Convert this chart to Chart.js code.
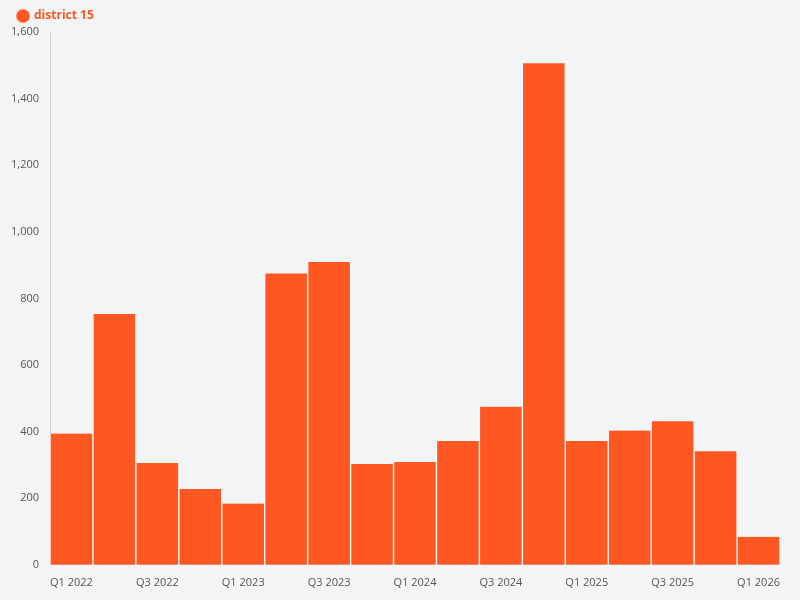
<!DOCTYPE html>
<html><head><meta charset="utf-8">
<script src="https://cdn.jsdelivr.net/npm/chart.js@4"></script>
<style>html,body{margin:0;padding:0;background:#f3f4f6;}#w{width:800px;height:600px;}</style>
</head><body><div id="w"><canvas id="c"></canvas></div>
<script>
const categories = ["Q1 2022","Q2 2022","Q3 2022","Q4 2022","Q1 2023","Q2 2023","Q3 2023","Q4 2023","Q1 2024","Q2 2024","Q3 2024","Q4 2024","Q1 2025","Q2 2025","Q3 2025","Q4 2025","Q1 2026"];
const values = [394,753,306,228,184,875,909,303,309,372,475,1506,372,403,431,341,84];
const seriesName = "district 15";
Chart.defaults.font.family = "'Open Sans', sans-serif";
new Chart(document.getElementById('c'), {
  type: 'bar',
  data: { labels: categories, datasets: [{ label: seriesName, data: values, backgroundColor: '#ff5722', borderColor: '#ffffff', borderWidth: {left:1,right:1,top:0,bottom:0}, barPercentage: 1, categoryPercentage: 1 }] },
  options: {
    responsive: true, maintainAspectRatio: false, animation: false,
    layout: { padding: { left: 8, right: 20, top: 0, bottom: 8 } },
    plugins: {
      legend: { position: 'top', align: 'start', labels: { usePointStyle: true, pointStyle: 'circle', boxWidth: 10, boxHeight: 10, color: '#ff5722', font: { size: 12, weight: 'bold' } } },
      tooltip: { enabled: false }
    },
    scales: {
      x: { grid: { display: false }, border: { color: '#d0d0d0' }, ticks: { color: '#555', font: { size: 11 }, maxRotation: 0, autoSkip: false, callback: function(v, i){ return i % 2 === 0 ? this.getLabelForValue(v) : ''; } } },
      y: { min: 0, max: 1600, grid: { display: false }, border: { color: '#d0d0d0' }, ticks: { stepSize: 200, color: '#555', font: { size: 11 } } }
    }
  }
});
</script></body></html>
